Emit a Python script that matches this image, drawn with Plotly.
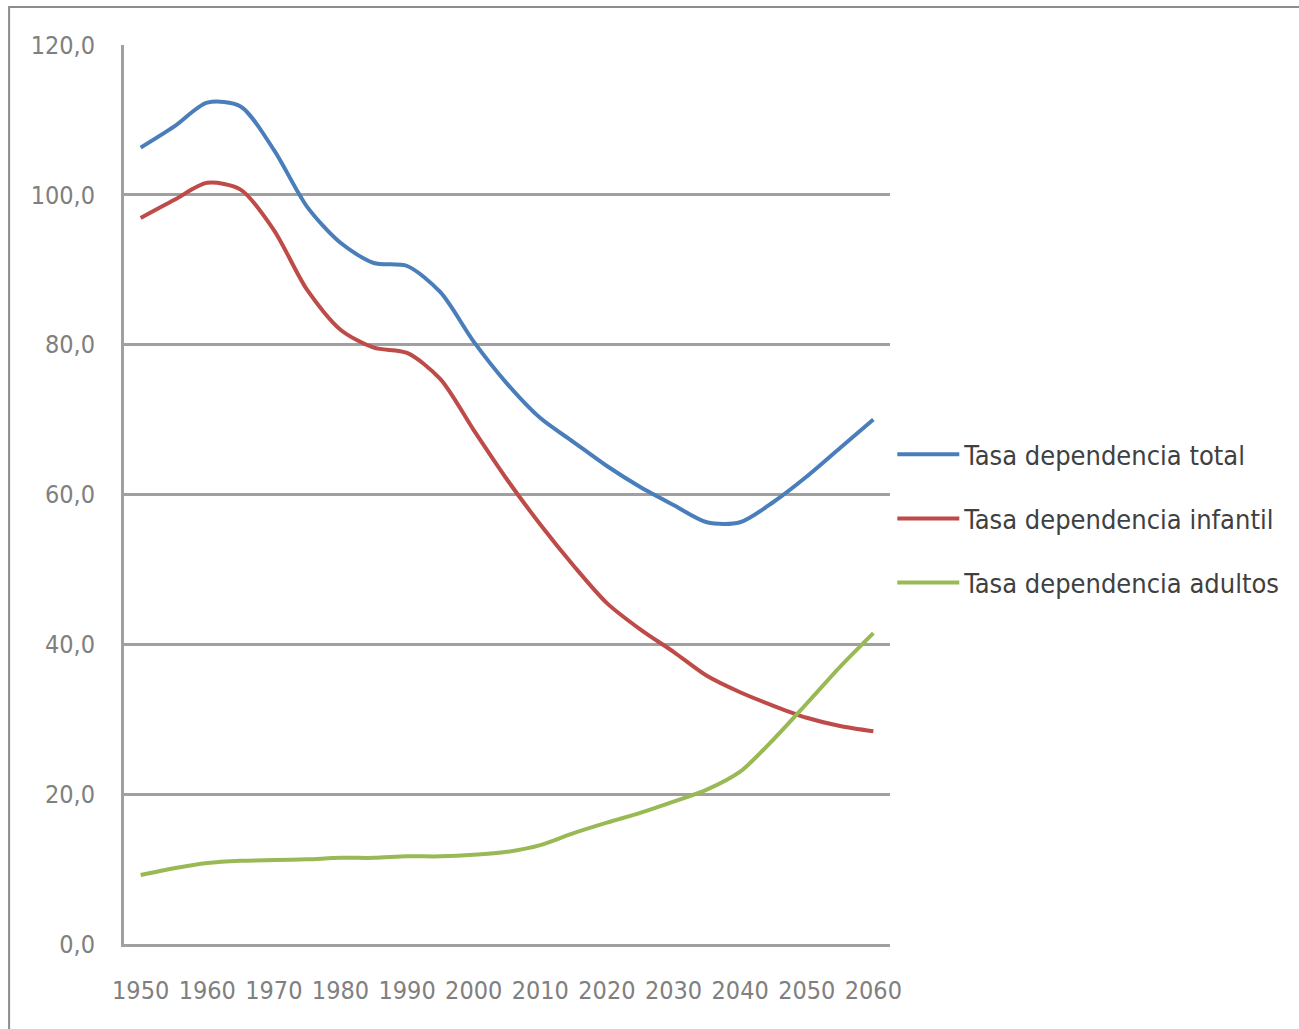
import plotly.graph_objects as go

years = [1950, 1955, 1960, 1965, 1970, 1975, 1980, 1985, 1990, 1995, 2000, 2005,
         2010, 2015, 2020, 2025, 2030, 2035, 2040, 2045, 2050, 2055, 2060]

total = [106.3, 109.1, 112.3, 111.8, 106.0, 98.4, 93.6, 90.9, 90.5, 87.0, 80.4, 74.8,
         70.2, 67.0, 63.8, 61.0, 58.6, 56.3, 56.3, 59.0, 62.4, 66.2, 70.0]
infantil = [96.9, 99.3, 101.6, 100.7, 95.3, 87.3, 82.0, 79.6, 78.9, 75.4, 68.6, 62.0,
            56.0, 50.5, 45.5, 42.0, 39.0, 35.8, 33.6, 31.8, 30.2, 29.1, 28.4]
adultos = [9.2, 10.1, 10.8, 11.1, 11.2, 11.3, 11.5, 11.5, 11.7, 11.7, 11.9, 12.3,
           13.2, 14.8, 16.2, 17.5, 19.0, 20.6, 23.0, 27.3, 32.1, 37.0, 41.5]

series_names = ["Tasa dependencia total", "Tasa dependencia infantil", "Tasa dependencia adultos"]
series_colors = ["#4A7EBB", "#BE4B48", "#98B954"]

x_ticks = [1950, 1960, 1970, 1980, 1990, 2000, 2010, 2020, 2030, 2040, 2050, 2060]
y_ticks = [0, 20, 40, 60, 80, 100, 120]
y_labels = ["0,0", "20,0", "40,0", "60,0", "80,0", "100,0", "120,0"]

FONT = "DejaVu Sans Condensed, sans-serif"

fig = go.Figure()
for i, (name, vals, col) in enumerate(zip(series_names, [total, infantil, adultos], series_colors)):
    fig.add_trace(go.Scatter(
        x=years, y=vals, name=name, mode="lines", legendgroup=f"g{i}",
        line=dict(color=col, width=4, shape="spline", smoothing=0.8),
    ))

fig.update_layout(
    width=1299, height=1029,
    margin=dict(l=124, r=409, t=45, b=85, autoexpand=False),
    paper_bgcolor="white", plot_bgcolor="white",
    font=dict(family=FONT, size=25, color="#808080"),
    showlegend=True,
    legend=dict(
        x=1.003, y=0.473, xanchor="left", yanchor="middle",
        font=dict(family=FONT, size=27, color="#404040"),
        itemwidth=62, tracegroupgap=26,
        bgcolor="rgba(0,0,0,0)",
    ),
    xaxis=dict(
        range=[1947.5, 2062.5], tickmode="array", tickvals=x_ticks,
        ticktext=[str(v) for v in x_ticks], tickangle=0, automargin=False,
        showgrid=False, zeroline=False,
        showline=True, linecolor="#A0A0A0", linewidth=3,
        ticks="", ticklabelstandoff=22,
        tickfont=dict(family=FONT, size=25, color="#808080"),
    ),
    yaxis=dict(
        range=[0, 120], tickmode="array", tickvals=y_ticks, ticktext=y_labels,
        automargin=False,
        showgrid=True, gridcolor="#A0A0A0", gridwidth=3,
        zeroline=False,
        showline=True, linecolor="#A0A0A0", linewidth=3,
        ticks="", ticklabelstandoff=21,
        tickfont=dict(family=FONT, size=25, color="#808080"),
    ),
    shapes=[dict(
        type="rect", xref="paper", yref="paper",
        x0=-0.150, x1=2.0, y0=-1.0, y1=1.0423,
        line=dict(color="#8C8C8C", width=2), fillcolor="rgba(0,0,0,0)",
        layer="below",
    )],
)

fig.write_html("out.html", config={"displayModeBar": False},
               post_script="document.body.style.margin='0px';")
